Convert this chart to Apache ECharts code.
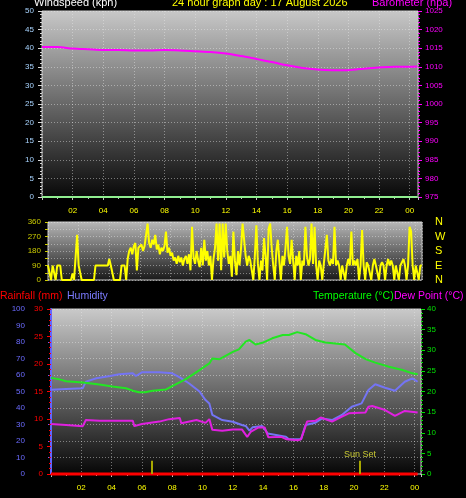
<!DOCTYPE html>
<html><head><meta charset="utf-8">
<script src="https://cdn.jsdelivr.net/npm/echarts@6/dist/echarts.min.js"></script>
<style>html,body{margin:0;padding:0;background:#000;}#c{width:466px;height:498px;}</style>
</head><body><div id="c"></div>
<script>
// ---------- DATA ----------
const windSpeedHours = [0, 24.5];
const windSpeedValues = [0, 0];

const baroHours  = [0, 1, 2, 3, 4, 5, 6, 7, 8, 9, 10, 11, 12, 13, 14, 15, 16, 17, 18, 19, 19.7, 20.5, 21, 22, 23, 24, 24.5];
const baroValues = [1015.3, 1015.3, 1014.9, 1014.7, 1014.5, 1014.5, 1014.4, 1014.4, 1014.5, 1014.4, 1014.2, 1014.0, 1013.6, 1012.9, 1012.1, 1011.3, 1010.4, 1009.7, 1009.3, 1009.1, 1009.05, 1009.3, 1009.5, 1009.8, 1010.0, 1010.0, 1010.05];

const windDirSampleMinutes = 6;
const windDirValues = [
  90,90,0,90,90,0,90,90,90,0,
  0,0,0,0,0,0,40,0,0,280,
  90,90,0,0,0,0,0,0,0,0,
  0,90,90,90,90,90,90,90,90,90,
  130,90,90,0,0,0,0,0,90,90,
  90,0,130,180,200,160,210,230,60,200,
  190,220,180,210,200,350,230,200,250,220,
  280,190,220,160,200,180,210,300,170,200,
  150,170,120,140,100,150,110,140,90,130,
  150,100,160,60,330,140,100,180,120,80,
  200,90,250,120,180,90,150,0,130,200,
  350,120,350,60,350,140,350,180,100,150,
  20,300,120,30,180,90,200,350,340,150,
  90,150,120,60,0,150,340,100,0,120,
  60,260,150,0,320,350,200,90,0,180,
  250,120,0,150,90,200,330,150,100,250,
  120,0,150,90,180,0,120,90,330,150,
  90,130,350,100,330,90,0,120,90,0,
  100,90,280,120,90,130,100,330,90,120,
  90,0,90,90,0,90,130,90,300,90,
  120,90,130,0,90,310,90,0,110,90,
  90,0,90,130,90,90,0,90,110,90,
  0,90,130,90,120,90,0,90,90,0,
  90,90,130,90,0,90,330,300,90,0,
  90,90,0,90,90
];
const compassLabels = {0:'N', 90:'E', 180:'S', 270:'W', 360:'N'};

const tempHours  = [0, 0.5, 1.0, 2.1, 3.2, 4.05, 4.95, 5.4, 5.8, 6.2, 6.7, 7.6, 8.0, 8.9, 9.8, 10.45, 10.65, 11.1, 12.0, 12.4, 12.85, 13.1, 13.5, 13.95, 14.6, 15.3, 15.7, 16.25, 16.8, 17.45, 18.1, 19.4, 20.1, 20.8, 21.4, 22.3, 23.2, 23.85, 24.2];
const tempValues = [23.3, 23.0, 22.5, 22.2, 21.7, 21.2, 20.8, 20.2, 19.8, 19.8, 20.2, 20.5, 21.3, 23.0, 25.2, 26.8, 28.0, 27.8, 29.6, 30.2, 32.1, 32.5, 31.4, 31.8, 32.9, 33.7, 33.7, 34.4, 33.9, 32.5, 31.9, 31.4, 29.3, 27.8, 27.0, 26.0, 25.2, 24.4, 24.2];

const humHours  = [0, 1.0, 2.1, 2.3, 3.0, 3.9, 4.5, 5.4, 5.6, 6.0, 7.15, 8.0, 8.5, 9.1, 9.8, 10.2, 10.45, 10.65, 11.3, 12.0, 12.6, 12.85, 13.1, 13.3, 13.95, 14.3, 15.5, 15.7, 16.5, 16.8, 17.45, 17.9, 18.55, 19.2, 19.85, 20.5, 20.95, 21.4, 22.05, 22.7, 23.35, 23.85, 24.2];
const humValues = [51, 51.5, 52, 56, 58, 59.4, 60.4, 61, 59.4, 61.6, 61.6, 61, 58.6, 55, 50, 44.8, 42.8, 35.8, 32.7, 31.7, 29.7, 29.1, 26.3, 28.3, 29.1, 24.6, 22.6, 21, 21, 29.7, 31.1, 33.7, 32.7, 35.8, 40.8, 42.8, 50.9, 54.4, 52.3, 50.5, 55.9, 58, 55.9];

const dewHours  = [0, 1.0, 2.1, 2.3, 3.2, 5.4, 5.5, 6.0, 7.15, 7.8, 8.5, 8.6, 9.6, 10.2, 10.45, 10.65, 11.3, 12.0, 12.6, 12.95, 13.2, 13.7, 14.1, 14.35, 15.2, 15.55, 16.3, 16.5, 16.9, 17.45, 17.8, 18.55, 19.2, 19.65, 20.75, 20.95, 21.2, 22.05, 22.7, 23.35, 24.2];
const dewValues = [12.1, 11.9, 11.6, 13.1, 12.9, 12.9, 11.6, 12.1, 12.7, 13.3, 13.6, 12.3, 13.1, 12.4, 13.3, 10.7, 10.5, 10.8, 10.8, 9.0, 10.3, 11.3, 11.3, 8.9, 9.0, 8.4, 8.2, 8.4, 12.7, 12.9, 13.7, 12.7, 13.9, 14.7, 14.9, 16.3, 16.5, 15.5, 14.1, 15.3, 14.9];

const rainHours  = [0, 24.2];
const rainValues = [0, 0];

const sunHours  = [6.67, 20.4];
const sunLabels = ['', 'Sun Set'];

// ---------- BUILD ----------
const pairs = (xs, ys) => xs.map((x, i) => [x, ys[i]]);
const windDirData = windDirValues.map((v, i) => [i * windDirSampleMinutes / 60, v]);

const FONT = 'Liberation Sans';
const bg = (top, bottom) => ({type:'linear', x:0, y:0, x2:0, y2:1,
  colorStops:[{offset:0, color:top}, {offset:1, color:bottom}]});
const dotted = {show:true, lineStyle:{color:'rgba(235,235,235,0.45)', type:[1,2], width:1}};
const plain = v => String(v);
const hourFmt = v => (v > 0 && Math.abs(v - Math.round(v)) < 1e-6 && Math.round(v) % 2 === 0)
  ? (Math.round(v) === 24 ? '00' : String(Math.round(v)).padStart(2, '0')) : '';

function xAxis(gridIndex, max, showLabels) {
  return {
    type:'value', gridIndex, min:0, max, interval:2,
    axisLine:{show:false},
    axisTick:{show:showLabels, length:3, lineStyle:{color:'#c0c0c0'}},
    minorTick:{show:showLabels, splitNumber:2, length:2, lineStyle:{color:'#c0c0c0'}},
    axisLabel:{show:showLabels, formatter:hourFmt, color:'#ffff00', fontSize:8, fontFamily:FONT, margin:10,
      showMinLabel:false},
    splitLine:dotted
  };
}
const titleStyle = (color, size) => ({color, fontSize:size, fontWeight:'normal', fontFamily:FONT});

const chart = echarts.init(document.getElementById('c'), null, {renderer:'canvas'});
chart.setOption({
  backgroundColor:'#000',
  animation:false,
  textStyle:{fontFamily:FONT},
  title:[
    {text:'Windspeed (kph)', left:34, top:-3, padding:0, textStyle:titleStyle('#ffffff', 11)},
    {text:'24 hour graph day : 17 August 2026', left:172, top:-3, padding:0, textStyle:titleStyle('#ffff00', 11)},
    {text:'Barometer (hpa)', left:372, top:-3, padding:0, textStyle:titleStyle('#ff00ff', 11)},
    {text:'Rainfall (mm)', left:0, top:291, padding:0, textStyle:titleStyle('#ff0000', 10.5)},
    {text:'Humidity', left:67, top:291, padding:0, textStyle:titleStyle('#7b7bff', 10.5)},
    {text:'Temperature (°C)', left:313, top:291, padding:0, textStyle:titleStyle('#00ff00', 10.5)},
    {text:'Dew Point (°C)', left:394, top:291, padding:0, textStyle:titleStyle('#ff00ff', 10.5)}
  ],
  grid:[
    {left:42, top:11, width:376, height:186, show:true, backgroundColor:bg('#c8c8c8', '#080808'), borderColor:'#c8c8c8', borderWidth:1},
    {left:48, top:222, width:374, height:58, show:true, backgroundColor:bg('#b8b8b8', '#181818'), borderColor:'#c8c8c8', borderWidth:1},
    {left:51, top:309, width:370, height:165, show:true, backgroundColor:bg('#cacaca', '#060606'), borderColor:'#c8c8c8', borderWidth:1}
  ],
  xAxis:[ xAxis(0, 24.54, true), xAxis(1, 24.41, false), xAxis(2, 24.42, true) ],
  yAxis:[
    {type:'value', gridIndex:0, position:'left', min:0, max:50, interval:5,
      axisLine:{show:false}, axisTick:{show:true, length:4, lineStyle:{color:'#d8d8d8'}},
      minorTick:{show:true, splitNumber:5, length:2, lineStyle:{color:'#d8d8d8'}},
      axisLabel:{color:'#a8d4ff', fontSize:8, fontFamily:FONT, margin:8, formatter:plain}, splitLine:dotted},
    {type:'value', gridIndex:0, position:'right', min:975, max:1025, interval:5,
      axisLine:{show:false}, axisTick:{show:true, length:4, lineStyle:{color:'#ff00ff'}},
      minorTick:{show:true, splitNumber:5, length:2, lineStyle:{color:'#ff00ff'}},
      axisLabel:{color:'#ff00ff', fontSize:8, fontFamily:FONT, margin:7, formatter:plain}, splitLine:{show:false}},
    {type:'value', gridIndex:1, position:'left', min:0, max:360, interval:45,
      axisLine:{show:false}, axisTick:{show:true, length:3, lineStyle:{color:'#cccc00'}},
      axisLabel:{color:'#cccc00', fontSize:8, fontFamily:FONT, margin:7, formatter:v => v % 90 === 0 ? String(v) : ''},
      splitLine:dotted},
    {type:'value', gridIndex:1, position:'right', min:0, max:360, interval:90,
      axisLine:{show:false}, axisTick:{show:false},
      axisLabel:{color:'#ffff00', fontSize:11, fontFamily:FONT, margin:13, formatter:v => compassLabels[v] || ''},
      splitLine:{show:false}},
    {type:'value', gridIndex:2, position:'left', offset:21, min:0, max:100, interval:10,
      axisLine:{show:true, lineStyle:{color:'#6464ff', width:2}},
      axisTick:{show:true, length:3, lineStyle:{color:'#6464ff'}},
      axisLabel:{color:'#6b6bff', fontSize:8, fontFamily:FONT, margin:5, formatter:plain}, splitLine:dotted},
    {type:'value', gridIndex:2, position:'left', min:0, max:30, interval:5,
      axisLine:{show:false},
      axisTick:{show:true, length:4, lineStyle:{color:'#ff0000'}},
      minorTick:{show:true, splitNumber:5, length:2, lineStyle:{color:'#ff0000'}},
      axisLabel:{color:'#ff0000', fontSize:8, fontFamily:FONT, margin:8, formatter:plain}, splitLine:{show:false}},
    {type:'value', gridIndex:2, position:'right', min:0, max:40, interval:5,
      axisLine:{show:false},
      axisTick:{show:true, length:4, lineStyle:{color:'#00e000'}},
      minorTick:{show:true, splitNumber:5, length:2, lineStyle:{color:'#00e000'}},
      axisLabel:{color:'#00e000', fontSize:8, fontFamily:FONT, margin:6, formatter:plain}, splitLine:{show:false}}
  ],
  series:[
    {name:'Windspeed', type:'line', xAxisIndex:0, yAxisIndex:0, data:pairs(windSpeedHours, windSpeedValues),
      showSymbol:false, lineStyle:{color:'#90ee90', width:2}, clip:false},
    {name:'Barometer', type:'line', xAxisIndex:0, yAxisIndex:1, data:pairs(baroHours, baroValues),
      showSymbol:false, smooth:0.3, lineStyle:{color:'#ff00ff', width:2}},
    {name:'Wind direction', type:'line', xAxisIndex:1, yAxisIndex:2, data:windDirData,
      showSymbol:false, lineStyle:{color:'#ffff00', width:2}},
    {name:'Humidity', type:'line', xAxisIndex:2, yAxisIndex:4, data:pairs(humHours, humValues),
      showSymbol:false, lineStyle:{color:'#7474f4', width:2}},
    {name:'Temperature', type:'line', xAxisIndex:2, yAxisIndex:6, data:pairs(tempHours, tempValues),
      showSymbol:false, lineStyle:{color:'#22e622', width:2}},
    {name:'Dew Point', type:'line', xAxisIndex:2, yAxisIndex:6, data:pairs(dewHours, dewValues),
      showSymbol:false, lineStyle:{color:'#e020e0', width:2}},
    {name:'Rainfall', type:'line', xAxisIndex:2, yAxisIndex:5, data:pairs(rainHours, rainValues),
      showSymbol:false, lineStyle:{color:'#ff0000', width:3}, clip:false,
      markLine:{silent:true, symbol:['none','none'],
        lineStyle:{color:'#a8a800', width:2, type:'solid'},
        label:{show:true, position:'end', formatter:'{b}', color:'#c8c832', fontSize:9, fontFamily:FONT, distance:2},
        data: sunHours.map((h, i) => [{name:sunLabels[i], coord:[h, 0]}, {coord:[h, 2.4]}])}}
  ]
});
</script>
</body></html>
